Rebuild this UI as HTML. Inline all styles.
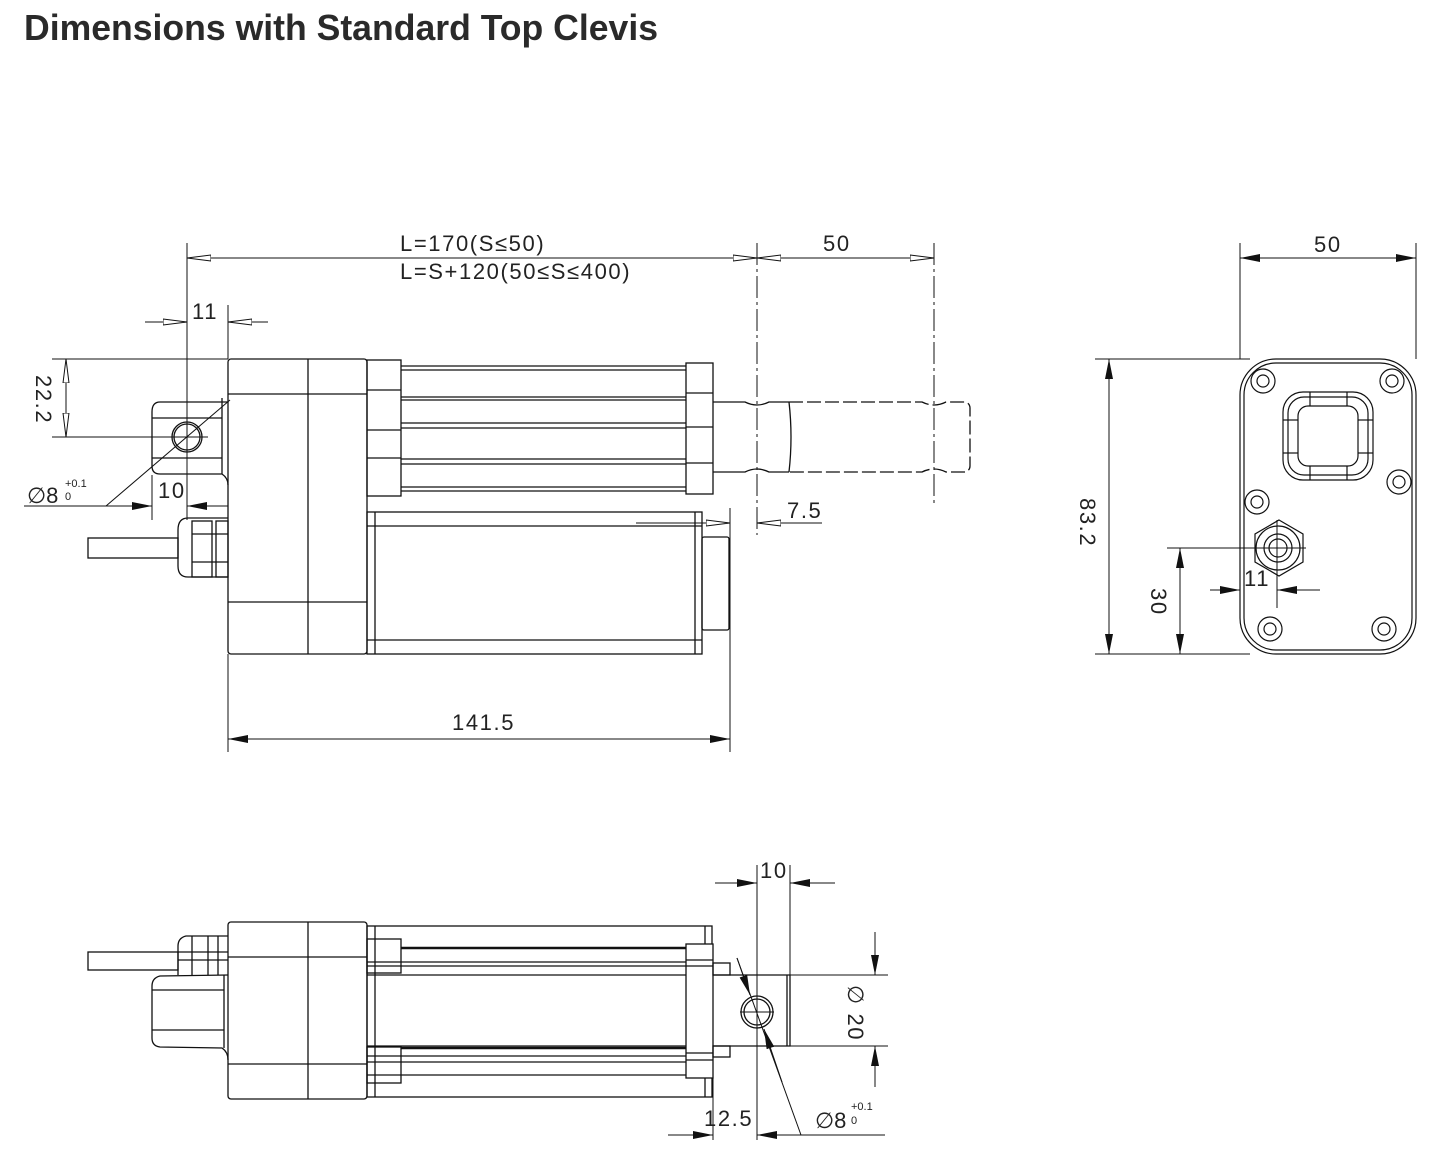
<!DOCTYPE html>
<html><head><meta charset="utf-8"><style>
html,body{margin:0;padding:0;background:#fff;}
svg{display:block;}
text{font-family:"Liberation Sans",sans-serif;fill:#222;}
.d{font-size:22px;letter-spacing:1.6px;}
</style></head><body>
<svg width="1438" height="1162" viewBox="0 0 1438 1162" xmlns="http://www.w3.org/2000/svg">
<defs>
<marker id="a" viewBox="0 0 20 8" refX="20" refY="4" markerWidth="20" markerHeight="8" markerUnits="userSpaceOnUse" orient="auto-start-reverse"><path d="M0,0 L20,4 L0,8 Z" fill="#111"/></marker>
<marker id="o" viewBox="0 0 24 8" refX="24" refY="4" markerWidth="24" markerHeight="8" markerUnits="userSpaceOnUse" orient="auto-start-reverse"><path d="M0,1 L24,4 L0,7 Z" fill="#fff" stroke="#111" stroke-width="1"/></marker>
</defs>
<text x="24" y="40" font-size="36" font-weight="bold" textLength="634" lengthAdjust="spacingAndGlyphs" style="fill:#2a2a2a">Dimensions with Standard Top Clevis</text>

<g stroke="#111" stroke-width="1.3" fill="none">
<rect x="228" y="359" width="139" height="295" rx="3"/>
<line x1="308" y1="359" x2="308" y2="654"/>
<line x1="228" y1="394" x2="367" y2="394"/>
<line x1="228" y1="602" x2="367" y2="602"/>
<rect x="367" y="360" width="34" height="136"/>
<line x1="367" y1="390" x2="401" y2="390"/>
<line x1="367" y1="430" x2="401" y2="430"/>
<line x1="367" y1="458" x2="401" y2="458"/>
<line x1="401" y1="366" x2="686" y2="366"/><line x1="401" y1="370" x2="686" y2="370"/>
<line x1="401" y1="397" x2="686" y2="397"/><line x1="401" y1="400" x2="686" y2="400"/>
<line x1="401" y1="423" x2="686" y2="423"/><line x1="401" y1="428" x2="686" y2="428"/>
<line x1="401" y1="459" x2="686" y2="459"/><line x1="401" y1="464" x2="686" y2="464"/>
<line x1="401" y1="487" x2="686" y2="487"/><line x1="401" y1="491" x2="686" y2="491"/>
<rect x="686" y="363" width="27" height="131"/>
<line x1="686" y1="393" x2="713" y2="393"/><line x1="686" y1="427" x2="713" y2="427"/><line x1="686" y1="463" x2="713" y2="463"/>
<path d="M713,402 L745,402 Q757,408 769,402 L789,402 M713,472 L745,472 Q757,466 769,472 L789,472"/>
<path d="M789,402 Q793,437 789,472"/>
<path d="M789,402 L922,402 Q934,408 946,402 L966,402 Q970,404 970,408 L970,466 Q970,470 966,472 L946,472 Q934,466 922,472 L789,472" stroke-dasharray="14,4"/>
<rect x="367" y="512" width="335" height="142"/>
<line x1="375" y1="512" x2="375" y2="654"/><line x1="695" y1="512" x2="695" y2="654"/>
<line x1="367" y1="526" x2="702" y2="526"/><line x1="367" y1="640" x2="702" y2="640"/>
<rect x="702" y="537" width="27" height="93" rx="2"/>
<path d="M228,402 L160,402 Q152,402 152,412 L152,466 Q152,474 160,474 L222,474 Q228,478 228,485"/>
<line x1="152" y1="418" x2="222" y2="418"/><line x1="152" y1="458" x2="222" y2="458"/>
<line x1="222" y1="398" x2="222" y2="474"/>
<circle cx="187" cy="437" r="15"/><circle cx="187" cy="437" r="13"/>
<path d="M228,518 L188,518 Q178,518 178,530 L178,566 Q178,577 188,577 L228,577"/>
<rect x="192" y="521" width="20" height="56"/><rect x="216" y="521" width="12" height="56"/>
<line x1="192" y1="534" x2="228" y2="534"/><line x1="192" y1="562" x2="228" y2="562"/>
<rect x="88" y="538" width="90" height="20"/>
</g>

<g stroke="#111" stroke-width="1" fill="none">
<line x1="187" y1="243" x2="187" y2="520"/>
<line x1="228" y1="305" x2="228" y2="359"/>
<line x1="757" y1="243" x2="757" y2="535" stroke-dasharray="22,4,3,4"/>
<line x1="934" y1="243" x2="934" y2="507" stroke-dasharray="22,4,3,4"/>
<line x1="187" y1="258" x2="757" y2="258" marker-start="url(#o)" marker-end="url(#o)"/>
<line x1="757" y1="258" x2="934" y2="258" marker-start="url(#o)" marker-end="url(#o)"/>
<line x1="145" y1="322" x2="187" y2="322" marker-end="url(#o)"/>
<line x1="228" y1="322" x2="268" y2="322" marker-start="url(#o)"/>
<line x1="52" y1="359" x2="228" y2="359"/>
<line x1="52" y1="437" x2="208" y2="437"/>
<line x1="66" y1="359" x2="66" y2="437" marker-start="url(#o)" marker-end="url(#o)"/>
<line x1="152" y1="475" x2="152" y2="520"/>
<line x1="24" y1="506" x2="106" y2="506"/>
<line x1="106" y1="506" x2="152" y2="506" marker-end="url(#a)"/>
<line x1="228" y1="506" x2="187" y2="506" marker-end="url(#a)"/>
<line x1="106" y1="506" x2="230" y2="400"/>
<line x1="228" y1="654" x2="228" y2="752"/>
<line x1="730" y1="630" x2="730" y2="752"/>
<line x1="228" y1="739" x2="730" y2="739" marker-start="url(#a)" marker-end="url(#a)"/>
<line x1="730" y1="508" x2="730" y2="670"/>
<line x1="636" y1="523" x2="730" y2="523" marker-end="url(#o)"/>
<line x1="822" y1="523" x2="757" y2="523" marker-end="url(#o)"/>
</g>
<g class="d">
<text x="400" y="251">L=170(S≤50)</text>
<text x="400" y="279">L=S+120(50≤S≤400)</text>
<text x="823" y="251">50</text>
<text x="192" y="319">11</text>
<text x="158" y="498">10</text>
<text x="452" y="730">141.5</text>
<text x="787" y="518">7.5</text>
<text x="27" y="503" style="letter-spacing:0">∅8</text>
<text x="65" y="487" font-size="11" style="letter-spacing:0">+0.1</text>
<text x="65" y="500" font-size="11" style="letter-spacing:0">0</text>
<text transform="translate(36,375) rotate(90)">22.2</text>
</g>

<g stroke="#111" stroke-width="1.2" fill="none">
<rect x="1240" y="359" width="176" height="295" rx="36"/>
<rect x="1244" y="363" width="168" height="287" rx="32"/>
<circle cx="1263" cy="381" r="12"/><circle cx="1263" cy="381" r="6"/>
<circle cx="1392" cy="381" r="12"/><circle cx="1392" cy="381" r="6"/>
<circle cx="1257" cy="502" r="12"/><circle cx="1257" cy="502" r="6"/>
<circle cx="1399" cy="482" r="12"/><circle cx="1399" cy="482" r="6"/>
<circle cx="1270" cy="629" r="12"/><circle cx="1270" cy="629" r="6"/>
<circle cx="1384" cy="629" r="12"/><circle cx="1384" cy="629" r="6"/>
<rect x="1283" y="392" width="90" height="88" rx="20"/>
<rect x="1288" y="397" width="80" height="78" rx="16"/>
<rect x="1298" y="406" width="60" height="60" rx="10"/>
<line x1="1310" y1="392" x2="1310" y2="406"/><line x1="1347" y1="392" x2="1347" y2="406"/>
<line x1="1310" y1="466" x2="1310" y2="480"/><line x1="1347" y1="466" x2="1347" y2="480"/>
<line x1="1283" y1="420" x2="1298" y2="420"/><line x1="1283" y1="453" x2="1298" y2="453"/>
<line x1="1358" y1="420" x2="1373" y2="420"/><line x1="1358" y1="453" x2="1373" y2="453"/>
<polygon points="1279,520 1303,534 1303,562 1279,576 1255,562 1255,534"/>
<circle cx="1278" cy="548" r="22"/>
<circle cx="1278" cy="548" r="14"/><circle cx="1278" cy="548" r="9"/>
</g>
<g stroke="#111" stroke-width="1" fill="none">
<line x1="1240" y1="243" x2="1240" y2="359"/><line x1="1416" y1="243" x2="1416" y2="359"/>
<line x1="1240" y1="258" x2="1416" y2="258" marker-start="url(#a)" marker-end="url(#a)"/>
<line x1="1095" y1="359" x2="1250" y2="359"/><line x1="1095" y1="654" x2="1250" y2="654"/>
<line x1="1109" y1="359" x2="1109" y2="654" marker-start="url(#a)" marker-end="url(#a)"/>
<line x1="1167" y1="548" x2="1306" y2="548"/>
<line x1="1180" y1="548" x2="1180" y2="654" marker-start="url(#a)" marker-end="url(#a)"/>
<line x1="1277" y1="520" x2="1277" y2="608"/>
<line x1="1210" y1="590" x2="1240" y2="590" marker-end="url(#a)"/>
<line x1="1320" y1="590" x2="1277" y2="590" marker-end="url(#a)"/>
</g>
<g class="d">
<text x="1314" y="252">50</text>
<text x="1244" y="586">11</text>
<text transform="translate(1080,498) rotate(90)">83.2</text>
<text transform="translate(1151,588) rotate(90)">30</text>
</g>

<g stroke="#111" stroke-width="1.3" fill="none">
<rect x="228" y="922" width="139" height="177" rx="3"/>
<line x1="308" y1="922" x2="308" y2="1099"/>
<line x1="228" y1="957" x2="367" y2="957"/><line x1="228" y1="1064" x2="367" y2="1064"/>
<rect x="367" y="926" width="345" height="171"/>
<line x1="375" y1="926" x2="375" y2="1097"/><line x1="705" y1="926" x2="705" y2="1097"/>
<rect x="367" y="939" width="34" height="34"/><rect x="367" y="1047" width="34" height="36"/>
<line x1="401" y1="948" x2="686" y2="948" stroke-width="2.5"/>
<line x1="367" y1="962" x2="686" y2="962"/><line x1="367" y1="966" x2="686" y2="966"/>
<line x1="367" y1="975" x2="686" y2="975"/>
<line x1="367" y1="1046" x2="686" y2="1046"/>
<line x1="401" y1="1048" x2="686" y2="1048" stroke-width="2.5"/>
<line x1="367" y1="1056" x2="686" y2="1056"/><line x1="367" y1="1062" x2="686" y2="1062"/>
<line x1="367" y1="1075" x2="686" y2="1075"/>
<rect x="686" y="944" width="27" height="134" fill="#fff"/>
<line x1="686" y1="960" x2="713" y2="960"/><line x1="686" y1="966" x2="713" y2="966"/>
<line x1="686" y1="1053" x2="713" y2="1053"/><line x1="686" y1="1060" x2="713" y2="1060"/>
<rect x="713" y="963" width="17" height="12"/><rect x="713" y="1046" width="17" height="11"/>
<path d="M713,975 L790,975 L790,1046 L713,1046"/>
<line x1="787" y1="975" x2="787" y2="1046"/>
<circle cx="757" cy="1012" r="16"/><circle cx="757" cy="1012" r="13"/>
<path d="M228,975 L160,976 Q152,978 152,986 L152,1038 Q152,1046 160,1047 L222,1048 Q228,1052 228,1060"/>
<line x1="152" y1="990" x2="224" y2="990"/><line x1="152" y1="1030" x2="224" y2="1030"/>
<line x1="224" y1="975" x2="224" y2="1048"/>
<path d="M228,936 L186,936 Q178,938 178,946 L178,975"/>
<line x1="192" y1="936" x2="192" y2="975"/><line x1="208" y1="936" x2="208" y2="975"/><line x1="218" y1="936" x2="218" y2="975"/>
<line x1="178" y1="952" x2="228" y2="952"/><line x1="178" y1="960" x2="228" y2="960"/>
<rect x="88" y="952" width="90" height="18"/>
</g>
<g stroke="#111" stroke-width="1" fill="none">
<line x1="757" y1="865" x2="757" y2="1140"/>
<line x1="790" y1="865" x2="790" y2="975"/>
<line x1="713" y1="1046" x2="713" y2="1140"/>
<line x1="740" y1="1012" x2="774" y2="1012"/>
<line x1="715" y1="883" x2="757" y2="883" marker-end="url(#a)"/>
<line x1="835" y1="883" x2="790" y2="883" marker-end="url(#a)"/>
<line x1="790" y1="975" x2="888" y2="975"/><line x1="790" y1="1046" x2="888" y2="1046"/>
<line x1="875" y1="932" x2="875" y2="975" marker-end="url(#a)"/>
<line x1="875" y1="1087" x2="875" y2="1046" marker-end="url(#a)"/>
<line x1="668" y1="1135" x2="713" y2="1135" marker-end="url(#a)"/>
<line x1="802" y1="1135" x2="757" y2="1135" marker-end="url(#a)"/>
<line x1="737" y1="958" x2="801" y2="1135"/>
<line x1="801" y1="1135" x2="885" y2="1135"/>
<line x1="737" y1="958" x2="750" y2="995" marker-end="url(#a)"/>
<line x1="782" y1="1082" x2="764" y2="1029" marker-end="url(#a)"/>
</g>
<g class="d">
<text x="760" y="878">10</text>
<text x="704" y="1126">12.5</text>
<text x="815" y="1128" style="letter-spacing:0">∅8</text>
<text x="851" y="1110" font-size="11" style="letter-spacing:0">+0.1</text>
<text x="851" y="1124" font-size="11" style="letter-spacing:0">0</text>
<text transform="translate(848,985) rotate(90)">∅ 20</text>
</g>
</svg>
</body></html>
